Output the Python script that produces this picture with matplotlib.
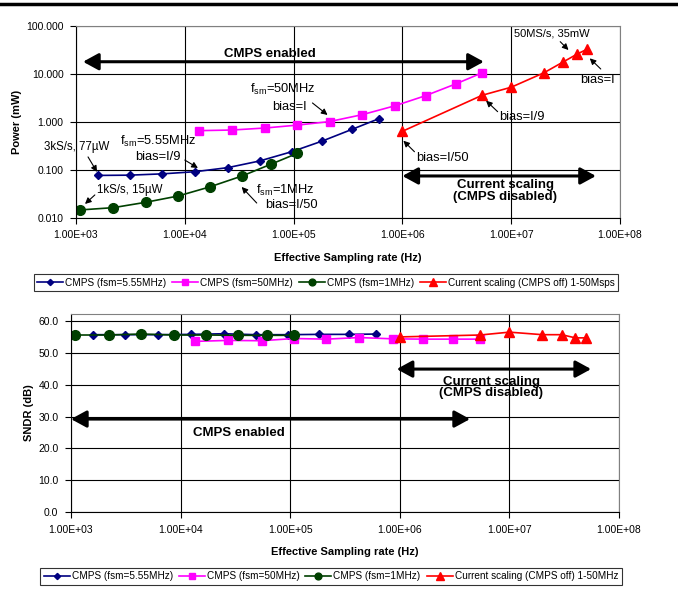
import numpy as np
import matplotlib
matplotlib.use("Agg")
import matplotlib.pyplot as plt
from matplotlib.ticker import FixedLocator, FuncFormatter, NullLocator

plt.rcParams['font.family'] = ['Liberation Sans', 'DejaVu Sans']
plt.rcParams['mathtext.fontset'] = 'custom'
plt.rcParams['mathtext.rm'] = 'Liberation Sans'

# ---- Data ----
# CMPS, fsm = 5.55 MHz
f_555 = [1580, 3110, 6190, 12400, 24900, 48700, 96000, 183000, 343000, 607000]
p_555 = [0.077, 0.078, 0.083, 0.092, 0.112, 0.154, 0.24, 0.40, 0.70, 1.17]
s_555 = [55.7, 55.7, 55.7, 55.8, 56.0, 55.7, 55.7, 55.8, 55.8, 55.9]

# CMPS, fsm = 50 MHz
f_50 = [13500, 27200, 55000, 108000, 214000, 427000, 863000, 1630000, 3080000, 5420000]
p_50 = [0.66, 0.68, 0.75, 0.86, 1.02, 1.42, 2.19, 3.53, 6.19, 10.6]
s_50 = [53.6, 53.9, 53.8, 54.5, 54.3, 54.8, 54.4, 54.3, 54.3, 54.3]

# CMPS, fsm = 1 MHz
f_1 = [1090, 2200, 4360, 8690, 16900, 33600, 62000, 108000]
p_1 = [0.0147, 0.0164, 0.0212, 0.0287, 0.0443, 0.075, 0.132, 0.222]
s_1 = [55.6, 55.6, 55.9, 55.6, 55.6, 55.5, 55.5, 55.5]

# Current scaling (CMPS off)
f_cs = [1.0e6, 5.4e6, 1.0e7, 2.0e7, 3.0e7, 4.0e7, 5.0e7]
p_cs = [0.64, 3.6, 5.3, 10.6, 17.8, 25.7, 33.0]
s_cs = [55.0, 55.6, 56.5, 55.7, 55.7, 54.7, 54.7]

x_ticks = [1e3, 1e4, 1e5, 1e6, 1e7, 1e8]
p_ticks = [0.01, 0.1, 1, 10, 100]
s_ticks = [0, 10, 20, 30, 40, 50, 60]

NAVY = '#000080'
MAGENTA = '#ff00ff'
GREEN = '#004000'
RED = '#ff0000'

fig = plt.figure(figsize=(6.78, 5.92), dpi=100)
ax1 = fig.add_axes([0.1121, 0.6318, 0.8024, 0.3243])
ax2 = fig.add_axes([0.1047, 0.1351, 0.8083, 0.3345])

# rule at top of the page
fig.add_artist(plt.Line2D([0, 1], [0.994, 0.994], color='black', lw=2.5,
                          transform=fig.transFigure))


def series(ax, y555, y50, y1, ycs):
    h = []
    h += ax.plot(f_555, y555, '-D', color=NAVY, ms=4.5, lw=1.2,
                 label='CMPS (fsm=5.55MHz)')
    h += ax.plot(f_50, y50, '-s', color=MAGENTA, ms=6, lw=1.2,
                 label='CMPS (fsm=50MHz)')
    h += ax.plot(f_1, y1, '-o', color=GREEN, ms=7, lw=1.2,
                 label='CMPS (fsm=1MHz)')
    h += ax.plot(f_cs, ycs, '-^', color=RED, ms=7.5, lw=1.2,
                 label='Current scaling (CMPS off) 1-50Msps')
    return h


def style(ax):
    ax.set_xscale('log')
    ax.set_xlim(1e3, 1e8)
    ax.xaxis.set_major_locator(FixedLocator(x_ticks))
    ax.xaxis.set_minor_locator(NullLocator())
    ax.xaxis.set_major_formatter(FuncFormatter(lambda v, p: '%.2E' % v))
    ax.grid(True, color='black', lw=0.8)
    ax.set_axisbelow(True)
    for s in ['top', 'right']:
        ax.spines[s].set_color('#808080')
    for s in ['left', 'bottom']:
        ax.spines[s].set_color('black')
    ax.tick_params(labelsize=7.5, length=4, width=0.8, pad=5)
    ax.set_xlabel('Effective Sampling rate (Hz)', fontsize=8, fontweight='bold',
                  labelpad=9)


def arrow(ax, xy, xytext):
    ax.annotate('', xy=xy, xytext=xytext,
                arrowprops=dict(arrowstyle='-|>', color='black', lw=0.8,
                                mutation_scale=9, shrinkA=0, shrinkB=0))


def double_arrow(ax, x0, x1, y):
    ax.annotate('', xy=(x1, y), xytext=(x0, y),
                arrowprops=dict(arrowstyle='<|-|>,head_length=0.55,head_width=0.3',
                                color='black', lw=2.2,
                                mutation_scale=17, shrinkA=0, shrinkB=0))


# ---- Top: power ----
handles = series(ax1, p_555, p_50, p_1, p_cs)
style(ax1)
ax1.set_yscale('log')
ax1.set_ylim(0.01, 100)
ax1.yaxis.set_major_locator(FixedLocator(p_ticks))
ax1.yaxis.set_minor_locator(NullLocator())
ax1.yaxis.set_major_formatter(FuncFormatter(lambda v, p: '%.3f' % v))
ax1.set_ylabel('Power (mW)', fontsize=8, fontweight='bold', labelpad=3)

bold = dict(fontsize=9.5, fontweight='bold', ha='center', va='center')
small = dict(fontsize=9.3, ha='center', va='center')
tiny = dict(fontsize=8.3, ha='center', va='center')

double_arrow(ax1, 1.16e3, 5.6e6, 18.0)
ax1.text(6.0e4, 25.5, 'CMPS enabled', **bold)
double_arrow(ax1, 1.0e6, 6.0e7, 0.075)
ax1.text(8.8e6, 0.036, 'Current scaling\n(CMPS disabled)', linespacing=0.95,
         **bold)

ax1.text(8.0e4, 4.87, 'f$_{\\mathregular{sm}}$=50MHz', **small)
ax1.text(9.2e4, 2.05, 'bias=I', **small)
arrow(ax1, (2.05e5, 1.40), (1.49e5, 2.49))

ax1.text(5.7e3, 0.389, 'f$_{\\mathregular{sm}}$=5.55MHz', **small)
ax1.text(5.7e3, 0.189, 'bias=I/9', **small)
arrow(ax1, (1.32e4, 0.110), (1.0e4, 0.161))

ax1.text(1.015e3, 0.306, '3kS/s, 77\u00b5W', **tiny)
arrow(ax1, (1.56e3, 0.091), (1.29e3, 0.187))

ax1.text(3.1e3, 0.0383, '1kS/s, 15\u00b5W', **tiny)
arrow(ax1, (1.21e3, 0.0196), (1.49e3, 0.0302))

ax1.text(8.45e4, 0.0383, 'f$_{\\mathregular{sm}}$=1MHz', **small)
ax1.text(9.6e4, 0.0187, 'bias=I/50', **small)
arrow(ax1, (3.33e4, 0.0443), (4.58e4, 0.0205))

ax1.text(2.38e7, 70.5, '50MS/s, 35mW', fontsize=8, ha='center', va='center')
arrow(ax1, (3.36e7, 31.6), (2.82e7, 47.1))

ax1.text(6.24e7, 7.5, 'bias=I', **small)
arrow(ax1, (5.27e7, 21.2), (6.65e7, 12.7))

ax1.text(1.25e7, 1.29, 'bias=I/9', **small)
arrow(ax1, (5.87e6, 2.78), (7.5e6, 1.64))

ax1.text(2.34e6, 0.175, 'bias=I/50', **small)
arrow(ax1, (1.02e6, 0.407), (1.29e6, 0.24))

leg_kw = dict(loc='center', ncol=4, fontsize=7.2, frameon=True, fancybox=False,
              edgecolor='black', handlelength=2.6, handletextpad=0.2,
              columnspacing=0.6, borderpad=0.35, borderaxespad=0,
              markerscale=0.7)
leg1 = fig.legend(handles=handles, bbox_to_anchor=(0.481, 0.522), **leg_kw)
leg1.get_frame().set_linewidth(0.8)

# ---- Bottom: SNDR ----
handles2 = series(ax2, s_555, s_50, s_1, s_cs)
style(ax2)
ax2.set_ylim(0, 62.2)
ax2.yaxis.set_major_locator(FixedLocator(s_ticks))
ax2.yaxis.set_major_formatter(FuncFormatter(lambda v, p: '%.1f' % v))
ax2.set_ylabel('SNDR (dB)', fontsize=8, fontweight='bold', labelpad=3)

double_arrow(ax2, 1.0e3, 4.37e6, 29.2)
ax2.text(3.39e4, 24.9, 'CMPS enabled', **bold)
double_arrow(ax2, 9.37e5, 5.56e7, 44.9)
ax2.text(6.8e6, 39.1, 'Current scaling\n(CMPS disabled)', linespacing=0.95,
         **bold)

labels2 = ['CMPS (fsm=5.55MHz)', 'CMPS (fsm=50MHz)', 'CMPS (fsm=1MHz)',
           'Current scaling (CMPS off) 1-50MHz']
leg2 = fig.legend(handles=handles2, labels=labels2,
                  bbox_to_anchor=(0.488, 0.027), **leg_kw)
leg2.get_frame().set_linewidth(0.8)

fig.savefig('out.png', dpi=100)
